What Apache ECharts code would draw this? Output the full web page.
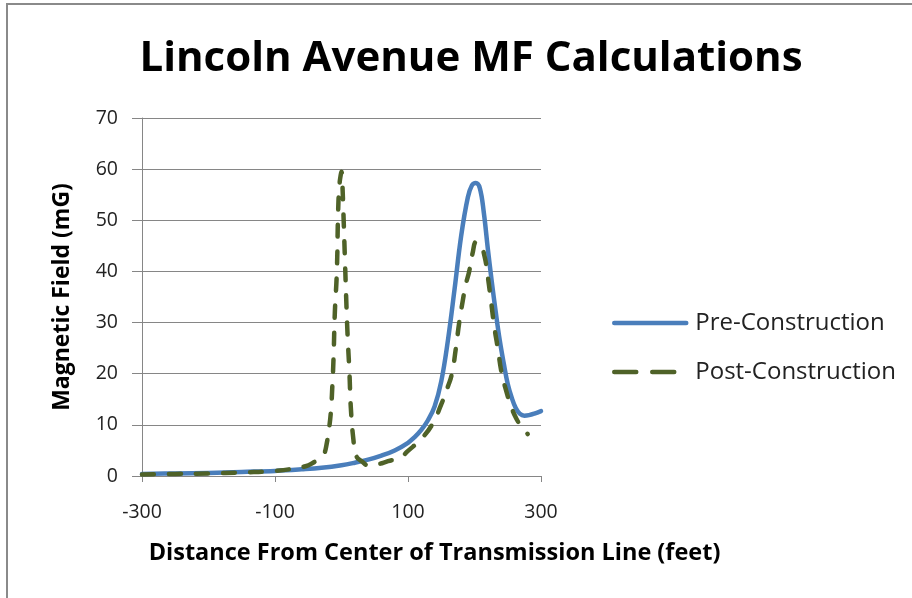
<!DOCTYPE html>
<html>
<head>
<meta charset="utf-8">
<script src="https://cdn.jsdelivr.net/npm/echarts@6/dist/echarts.min.js"></script>
<style>
html,body{margin:0;padding:0;background:#fff;}
#chart{width:912px;height:598px;}
</style>
</head>
<body>
<div id="chart"></div>
<script>
// ---- data ----
var titleText = 'Lincoln Avenue MF Calculations';
var xAxisTitle = 'Distance From Center of Transmission Line (feet)';
var yAxisTitle = 'Magnetic Field (mG)';
var seriesNames = ['Pre-Construction', 'Post-Construction'];

var preX = [-300,-250,-200,-150,-100,-60,-30,0,20,40,60,80,100,110,120,130,140,150,160,170,180,190,196,202,208,214,220,226,232,238,244,250,256,262,268,275,282,290,300];
var preY = [0.4,0.5,0.6,0.8,1.0,1.3,1.6,2.1,2.6,3.2,4.0,5.0,6.5,7.6,9.0,10.9,13.6,18.5,26.5,36.5,47,54.5,56.8,57.3,56.3,51.5,44.5,38,32,26.5,22,18,15.3,13.3,12.2,11.8,11.9,12.2,12.7];

var postX = [-300,-250,-200,-150,-100,-70,-50,-40,-30,-26,-22,-19,-16,-14,-12,-10,-7,-5,-3,-1,0,1,3,5,7,9,12,14,18,22,30,43,55,70,88,100,120,136,150,160,166,172,177,182,187,192,197,203,209,215,220,225,230,235,241,248,254,263,272,280];
var postY = [0.3,0.4,0.5,0.7,1.0,1.5,2.1,2.8,3.6,4.3,6.5,9,12.5,17,23,32,40,52,57,59,59.5,58,51,43,35,28,20,13.4,7,4,2.9,2.0,2.3,2.9,3.6,4.9,7.3,10,14,17.5,20,25,30,34,37.5,40,43.5,45.8,45.2,43,39,34,29,25,20,16.5,14,11.2,9.5,8.2];

var yTicks = {min: 0, max: 70, interval: 10};
var xTicks = {min: -300, max: 300, interval: 200};

function pairs(xs, ys){ return xs.map(function(x,i){ return [x, ys[i]]; }); }

var FONT = 'Open Sans';
var BLUE = '#4A7EBB', GREEN = '#4F6228';
var chart = echarts.init(document.getElementById('chart'), null, {renderer:'canvas'});
chart.setOption({
  animation: false,
  backgroundColor: '#fff',
  textStyle: {fontFamily: FONT},
  title: {
    text: titleText,
    left: 466, top: 33, textAlign: 'center',
    textStyle: {fontFamily: FONT, fontSize: 42, fontWeight: 'bold', color: '#000'}
  },
  graphic: [
    {type:'line', shape:{x1:7, y1:4, x2:7, y2:598}, style:{stroke:'#8a8a8a', lineWidth:2}},
    {type:'line', shape:{x1:6, y1:4, x2:912, y2:4}, style:{stroke:'#8a8a8a', lineWidth:2}}
  ],
  legend: {
    orient: 'vertical',
    left: 607, top: 305,
    itemWidth: 72, itemHeight: 14, itemGap: 23,
    itemStyle: {opacity: 0},
    lineStyle: {width: 4.5, cap: 'round'},
    textStyle: {fontFamily: FONT, fontSize: 24, color: '#222', lineHeight: 26, padding:[0,0,0,4]},
    data: [
      {name: seriesNames[0], lineStyle: {width: 4.5, color: BLUE, type: 'solid'}},
      {name: seriesNames[1], lineStyle: {width: 4.5, color: GREEN, type: [22, 16], cap: 'round'}}
    ]
  },
  grid: {left: 142, right: 371, top: 118, bottom: 122, containLabel: false},
  xAxis: {
    type: 'value',
    min: xTicks.min, max: xTicks.max, interval: xTicks.interval,
    name: xAxisTitle, nameLocation: 'middle', nameGap: 65,
    nameTextStyle: {fontFamily: FONT, fontSize: 23.5, fontWeight: 'bold', color: '#000', padding: [0,0,0,186]},
    axisLine: {show: true, lineStyle: {color: '#868686', width: 1}},
    axisTick: {show: true, length: 6, lineStyle: {color: '#868686'}},
    axisLabel: {fontFamily: FONT, fontSize: 19.5, color: '#222', margin: 26},
    splitLine: {show: false}
  },
  yAxis: {
    type: 'value',
    min: yTicks.min, max: yTicks.max, interval: yTicks.interval,
    name: yAxisTitle, nameLocation: 'middle', nameGap: 68, nameRotate: 90,
    nameTextStyle: {fontFamily: FONT, fontSize: 23, fontWeight: 'bold', color: '#000'},
    axisLine: {show: true, onZero: false, lineStyle: {color: '#868686', width: 1}},
    axisTick: {show: true, length: 10, inside: false, lineStyle: {color: '#868686'}},
    axisLabel: {fontFamily: FONT, fontSize: 19.5, color: '#222', margin: 24},
    splitLine: {show: true, lineStyle: {color: '#868686', width: 1}}
  },
  series: [
    {
      name: seriesNames[0], type: 'line', data: pairs(preX, preY),
      symbol: 'none', smooth: 0.4,
      lineStyle: {color: BLUE, width: 4.5, join: 'round', cap: 'round'},
      itemStyle: {color: BLUE}
    },
    {
      name: seriesNames[1], type: 'line', data: pairs(postX, postY),
      symbol: 'none', smooth: 0.5,
      lineStyle: {color: GREEN, width: 4.5, type: [12, 15], cap: 'round', join: 'round'},
      itemStyle: {color: GREEN},
      z: 3
    }
  ]
});
</script>
</body>
</html>
